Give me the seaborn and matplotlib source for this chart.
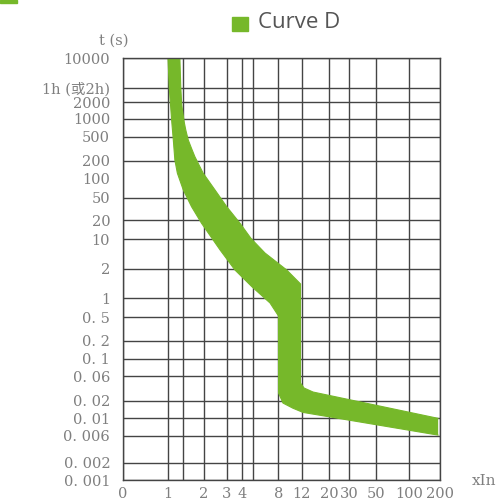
import numpy as np
import pandas as pd
import matplotlib
matplotlib.use("Agg")
import matplotlib.pyplot as plt
import seaborn as sns
from matplotlib.patches import Rectangle

# ---------------- data ----------------
x_ticks = [0, 1, 1.5, 2, 3, 4, 5, 8, 12, 20, 30, 50, 100, 200]
x_tick_labels = ["0", "1", "", "2", "3", "4", "", "8", "12", "20", "30", "50", "100", "200"]

y_ticks = [0.001, 0.002, 0.006, 0.01, 0.02, 0.06, 0.1, 0.2, 0.5, 1, 2, 10, 20, 50,
           100, 200, 500, 1000, 2000, 3600, 10000]
y_tick_labels = ["0. 001", "0. 002", "0. 006", "0. 01", "0. 02", "0. 06", "0. 1", "0. 2",
                 "0. 5", "1", "2", "10", "20", "50", "100", "200", "500", "1000", "2000",
                 "1h (或2h)", "10000"]
y_no_grid = [100]

# upper (max time) and lower (min time) edge of the D curve band, x = I/In, t in s
upper_x = [1.39, 1.42, 1.45, 1.52, 1.56, 1.62, 1.70, 1.78, 1.98, 2.48, 2.99, 3.85,
           4.84, 6.44, 9.44, 11.8, 11.8, 12.67, 15.3, 194]
upper_t = [10000, 3600, 1790, 900, 650, 441, 320, 235, 125, 66.5, 34.5, 17.8,
           10.3, 4.72, 1.94, 1.40, 0.044, 0.0352, 0.0294, 0.0099]
lower_x = [1.01, 1.05, 1.13, 1.18, 1.23, 1.31, 1.5, 1.70, 1.94, 2.40, 2.70, 3.52,
           4.93, 7.03, 8.03, 8.05, 8.8, 10.5, 12.4, 194]
lower_t = [10000, 3600, 900, 441, 207, 125, 66.5, 34.5, 17.8, 9.6, 5.57, 1.94,
           1.31, 0.843, 0.525, 0.028, 0.0182, 0.0148, 0.0125, 0.0061]

# ---------------- scale layout (where each grid line sits, pixels) ----------------
x_pos = np.array([122.7, 167.7, 183.3, 204, 227, 242.3, 252.7, 278.3, 301.7, 329.3,
                  349.3, 375.7, 409.3, 440.0])
y_pos = 480 - np.array([480, 462.7, 435.7, 418, 400.7, 376, 358.7, 341, 317.3, 298.3,
                        268.7, 239.3, 220, 197.7, 179, 161, 136.7, 119, 102.3, 87.7, 58.3])
x_arr = np.array(x_ticks, dtype=float)
y_log = np.log10(np.array(y_ticks, dtype=float))


def fx(v):
    return np.interp(v, x_arr, x_pos)


def fx_inv(p):
    return np.interp(p, x_pos, x_arr)


def fy(v):
    v = np.clip(np.asarray(v, dtype=float), 1e-12, None)
    return np.interp(np.log10(v), y_log, y_pos)


def fy_inv(p):
    return 10 ** np.interp(p, y_pos, y_log)


green = "#76b82a"
grid_col = "#444444"
label_col = "#7f7f7f"

sns.set_style("white")
serif = ["DejaVu Serif", "Noto Sans CJK SC"]

fig = plt.figure(figsize=(5.03, 5.01), dpi=100)
ax = fig.add_axes([122.7 / 503, 1 - 480 / 501, (440 - 122.7) / 503, (480 - 58.3) / 501])

ax.set_xscale("function", functions=(fx, fx_inv))
ax.set_yscale("function", functions=(fy, fy_inv))
ax.set_xlim(0, 200)
ax.set_ylim(0.001, 10000)

# grid
for xv in x_ticks:
    ax.axvline(xv, color=grid_col, lw=1.0, zorder=1)
for yv in y_ticks:
    if yv not in y_no_grid:
        ax.axhline(yv, color=grid_col, lw=1.0, zorder=1)

# band
poly_x = np.concatenate([upper_x, lower_x[::-1]])
poly_t = np.concatenate([upper_t, lower_t[::-1]])
ax.fill(poly_x, poly_t, color=green, lw=0, zorder=3)

edges = pd.DataFrame({"x": upper_x + lower_x,
                      "t": upper_t + lower_t,
                      "edge": ["upper"] * len(upper_x) + ["lower"] * len(lower_x)})
sns.lineplot(data=edges, x="x", y="t", units="edge", estimator=None, sort=False,
             color=green, lw=0.8, ax=ax, zorder=4, legend=False)

ax.set_xticks(x_ticks)
ax.set_xticklabels(x_tick_labels)
ax.set_yticks(y_ticks)
ax.set_yticklabels(y_tick_labels)
ax.minorticks_off()
ax.tick_params(length=0, labelcolor=label_col, labelsize=10.5)
ax.tick_params(axis="y", pad=9)
ax.tick_params(axis="x", pad=5)
for lab in ax.get_xticklabels() + ax.get_yticklabels():
    lab.set_family(serif)
ax.set_xlabel("")
ax.set_ylabel("")

for s in ax.spines.values():
    s.set_color(grid_col)
    s.set_linewidth(1.0)
    s.set_zorder(5)

# axis captions
fig.text(114 / 503, 1 - 41 / 501, "t (s)", ha="center", va="center",
         fontsize=10.5, color=label_col, family=serif)
fig.text(484 / 503, 1 - 481 / 501, "xIn", ha="center", va="center",
         fontsize=11, color=label_col, family=serif)

# legend
fig.patches.append(Rectangle((232 / 503, 1 - 31 / 501), 16 / 503, 14 / 501,
                             transform=fig.transFigure, color=green))
fig.text(258 / 503, 1 - 23 / 501, "Curve D", ha="left", va="center",
         fontsize=16, color="#555555", family="Open Sans")

# small green bar in the top-left corner
fig.patches.append(Rectangle((0, 1 - 3 / 501), 17 / 503, 3 / 501,
                             transform=fig.transFigure, color=green))

fig.savefig("out.png", dpi=100)
